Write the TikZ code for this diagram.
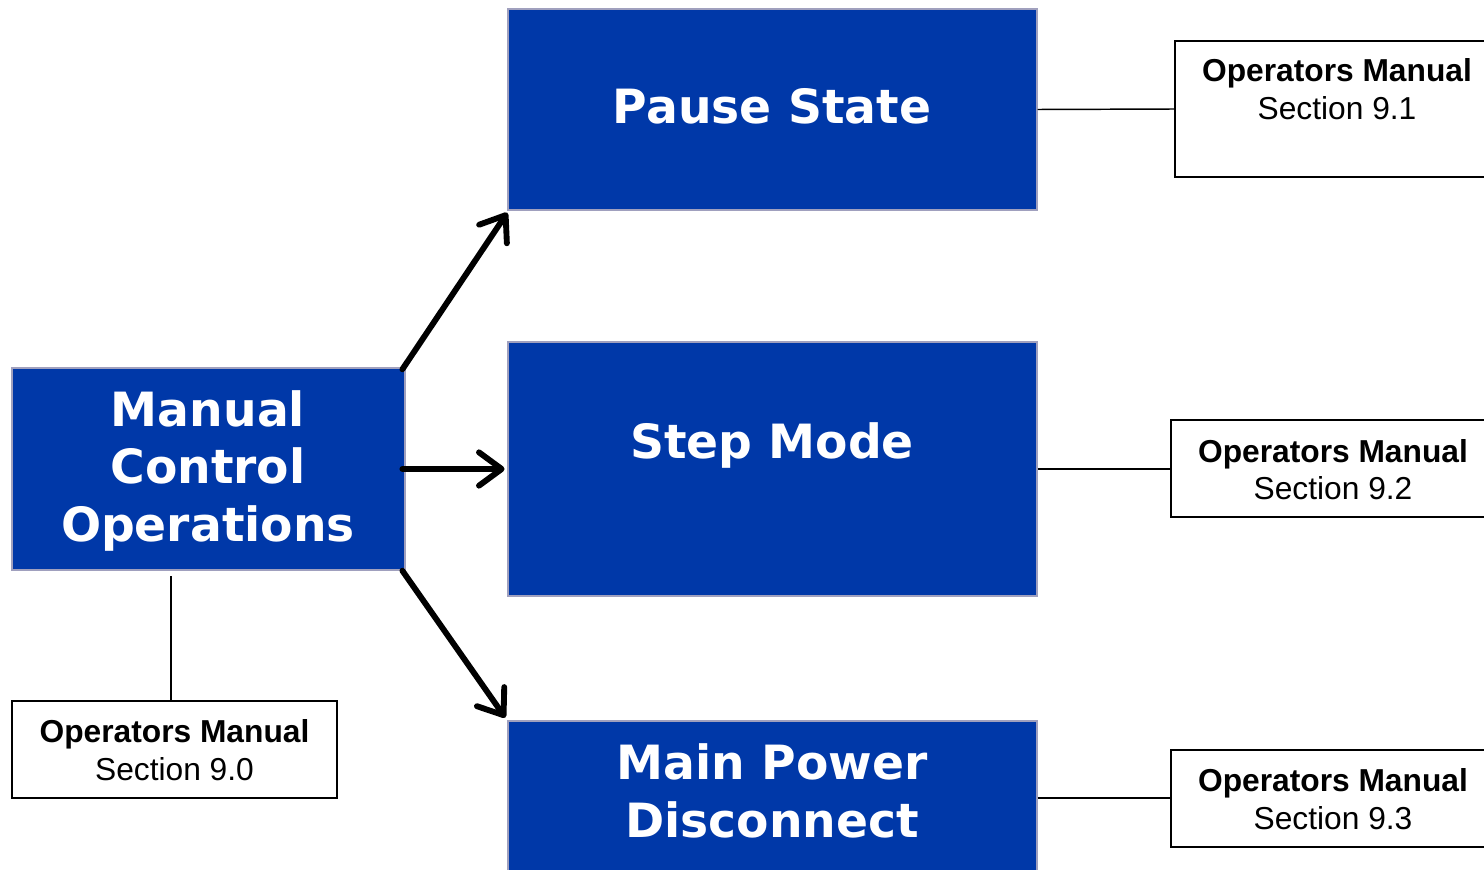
\documentclass[tikz,border=0pt]{standalone}
\usepackage{fontspec}
\setmainfont{Liberation Sans}
\newfontfamily\bluefont{DejaVu Sans}
\usetikzlibrary{arrows.meta,fit}
\definecolor{boxblue}{RGB}{0,56,168}
\definecolor{boxedge}{RGB}{160,160,190}
\tikzset{
  bluebox/.style={fill=boxblue, draw=boxedge, line width=1.1pt, inner sep=0pt},
  refbox/.style={fill=white, draw=black, line width=1.2pt, inner sep=0pt},
  bluetext/.style={text=white, font=\bluefont\bfseries\fontsize{35.4}{43}\selectfont, anchor=base, inner sep=0pt},
  boldref/.style={text=black, font=\bfseries\fontsize{23.8}{28}\selectfont, anchor=base, inner sep=0pt},
  plainref/.style={text=black, font=\fontsize{23.8}{28}\selectfont, anchor=base, inner sep=0pt},
  thin/.style={draw=black, line width=1.1pt},
  arr/.style={draw=black, line width=4.4pt, line cap=round,
    -{Straight Barb[length=17pt, width=25pt, line cap=round, line join=round]}}
}
\begin{document}
\begin{tikzpicture}[x=0.75pt, y=-0.75pt]
\useasboundingbox (0,0) rectangle (1484,870);
\clip (0,0) rectangle (1484,870);
% blue boxes
\node[bluebox, fit={(508,9) (1037,210)}] (pause) {};
\node[bluebox, fit={(508,342) (1037,596)}] (step) {};
\node[bluebox, fit={(508,721) (1037,875)}] (mpd) {};
\node[bluebox, fit={(12,368) (405,570)}] (mco) {};
% reference boxes
\node[refbox, fit={(1175,41) (1500,177)}] (om1) {};
\node[refbox, fit={(1171,420) (1500,517)}] (om2) {};
\node[refbox, fit={(1171,750) (1500,847)}] (om3) {};
\node[refbox, fit={(12,701) (337,798)}] (om0) {};
% blue texts
\node[bluetext] (tpause) at (772,124) {Pause State};
\node[bluetext] (tstep) at (772,458) {Step Mode};
\node[bluetext] (tmpd1) at (772,779) {Main Power};
\node[bluetext] (tmpd2) at (772,837) {Disconnect};
\node[bluetext] (tmco1) at (208,426) {Manual};
\node[bluetext] (tmco2) at (208,483) {Control};
\node[bluetext] (tmco3) at (208,541) {Operations};
% reference texts
\node[boldref] (t1a) at (1337,82) {Operators Manual};
\node[plainref] (t1b) at (1337,120) {Section 9.1};
\node[boldref] (t2a) at (1333,462) {Operators Manual};
\node[plainref] (t2b) at (1333,499) {Section 9.2};
\node[boldref] (t3a) at (1333,791) {Operators Manual};
\node[plainref] (t3b) at (1333,829) {Section 9.3};
\node[boldref] (t0a) at (174.5,742) {Operators Manual};
\node[plainref] (t0b) at (174.5,780) {Section 9.0};
% connectors
\draw[thin] (pause.east) -- (om1.west);
\draw[thin] (step.east) -- (step.east -| om2.west);
\draw[thin] (mpd.east) -- (mpd.east -| om3.west);
\coordinate (gap) at (171,576);
\draw[thin] (gap |- om0.north) -- (gap);
% arrows
\draw[arr] ([xshift=-2.5pt,yshift=-1.5pt]mco.north east) -- ([yshift=-1.5pt]pause.south west);
\draw[arr] ([xshift=-2.5pt]mco.east) -- ([xshift=-2pt]step.west);
\draw[arr] ([xshift=-2.5pt]mco.south east) -- ([xshift=-1.5pt,yshift=2pt]mpd.north west);
\end{tikzpicture}
\end{document}
